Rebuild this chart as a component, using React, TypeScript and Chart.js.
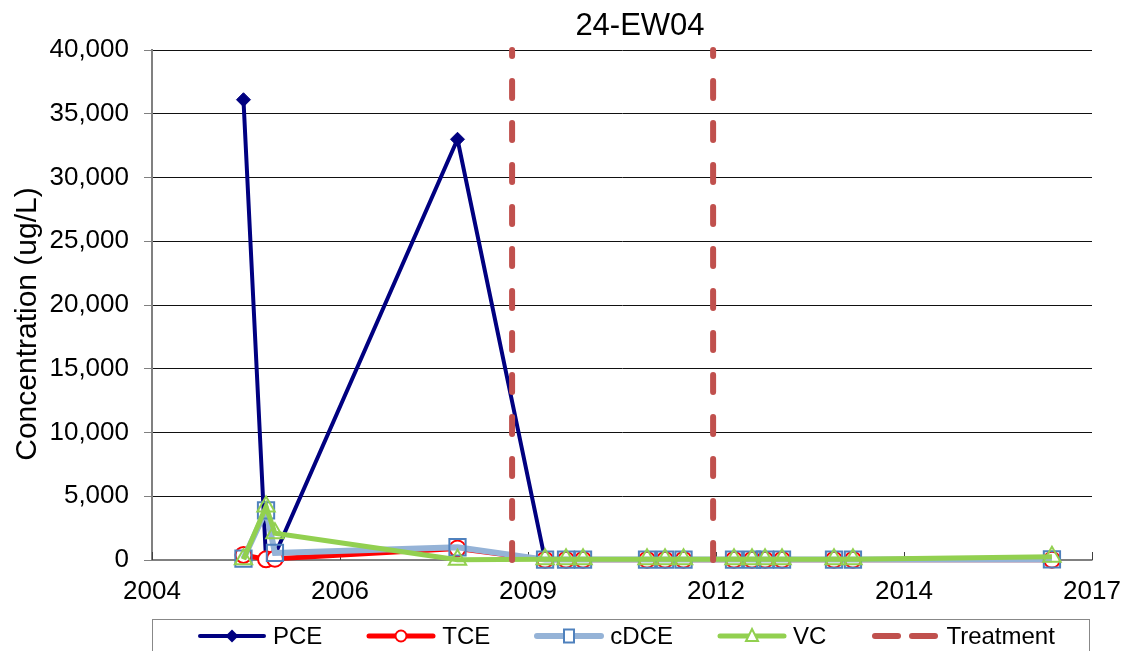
import React, { useEffect, useRef } from 'react';
import { Chart, registerables } from 'chart.js';

Chart.register(...registerables);

const FONT = "'Liberation Sans', Arial, Helvetica, sans-serif";

const chartTitle = '24-EW04';
const yAxisTitle = 'Concentration (ug/L)';

// Sample dates as decimal years
const sampleDates = [
  2005.565, 2005.877, 2006.0, 2008.525, 2009.736, 2010.026, 2010.261, 2011.146, 2011.395,
  2011.651, 2012.349, 2012.598, 2012.778, 2013.013, 2013.732, 2013.994, 2016.746,
];
const pceValues = [36100, 20, 400, 33000, 10, 10, 10, 10, 10, 10, 10, 10, 10, 10, 10, 10, 10];
const tceValues = [400, 50, 100, 900, 20, 20, 20, 20, 20, 20, 20, 20, 20, 20, 20, 20, 20];
const cdceValues = [100, 3900, 550, 1000, 30, 30, 30, 30, 30, 30, 30, 30, 30, 30, 30, 30, 40];
const vcValues = [50, 4200, 2100, 20, 60, 60, 60, 60, 60, 60, 60, 60, 60, 60, 60, 60, 250];

const treatmentDates = [2009.28, 2012.06];
const treatmentRange = [0, 40000];

const xTickPositions = [2004.3, 2006.9, 2009.5, 2012.1, 2014.7, 2017.3];
const xTickLabels = ['2004', '2006', '2009', '2012', '2014', '2017'];
const yMin = 0;
const yMax = 40000;
const yStep = 5000;

const seriesNames = ['PCE', 'TCE', 'cDCE', 'VC', 'Treatment'];

const toPoints = (vals: number[]) => sampleDates.map((x, i) => ({ x, y: vals[i] }));

const treatmentPoints: { x: number; y: number | null }[] = [];
treatmentDates.forEach((d, i) => {
  if (i > 0) treatmentPoints.push({ x: (treatmentDates[i - 1] + d) / 2, y: null });
  treatmentPoints.push({ x: d, y: treatmentRange[0] });
  treatmentPoints.push({ x: d, y: treatmentRange[1] });
});

const xInnerTicks = {
  id: 'xInnerTicks',
  beforeDatasetsDraw(chart: any) {
    const { ctx, scales, chartArea } = chart;
    const x = scales.x;
    ctx.save();
    ctx.strokeStyle = '#404040';
    ctx.lineWidth = 1;
    xTickPositions.forEach((v) => {
      const px = Math.round(x.getPixelForValue(v)) + 0.5;
      ctx.beginPath();
      ctx.moveTo(px, chartArea.bottom);
      ctx.lineTo(px, chartArea.bottom - 8);
      ctx.stroke();
    });
    ctx.restore();
  },
};

function LegendIcon({ name }: { name: string }) {
  const w = 70;
  const h = 24;
  const cy = 12;
  if (name === 'PCE') {
    return (
      <svg width={w} height={h}>
        <line x1={3} y1={cy} x2={67} y2={cy} stroke="#000080" strokeWidth={4} strokeLinecap="round" />
        <polygon points={`35,${cy - 6.5} 41.5,${cy} 35,${cy + 6.5} 28.5,${cy}`} fill="#000080" />
      </svg>
    );
  }
  if (name === 'TCE') {
    return (
      <svg width={w} height={h}>
        <line x1={3} y1={cy} x2={67} y2={cy} stroke="#FF0000" strokeWidth={5} strokeLinecap="round" />
        <circle cx={35} cy={cy} r={5.5} fill="#FFFFFF" stroke="#FF0000" strokeWidth={2} />
      </svg>
    );
  }
  if (name === 'cDCE') {
    return (
      <svg width={w} height={h}>
        <line x1={3} y1={cy} x2={67} y2={cy} stroke="#95B3D7" strokeWidth={6} strokeLinecap="round" />
        <rect x={30} y={cy - 6.5} width={10} height={13} fill="#FFFFFF" stroke="#4F81BD" strokeWidth={2} />
      </svg>
    );
  }
  if (name === 'VC') {
    return (
      <svg width={w} height={h}>
        <line x1={3} y1={cy} x2={67} y2={cy} stroke="#92D050" strokeWidth={5} strokeLinecap="round" />
        <polygon points={`35,${cy - 7} 41,${cy + 5} 29,${cy + 5}`} fill="#FFFFFF" stroke="#92D050" strokeWidth={2} />
      </svg>
    );
  }
  return (
    <svg width={w} height={h}>
      <line x1={5} y1={cy} x2={28} y2={cy} stroke="#C0504D" strokeWidth={6} strokeLinecap="round" />
      <line x1={42} y1={cy} x2={65} y2={cy} stroke="#C0504D" strokeWidth={6} strokeLinecap="round" />
    </svg>
  );
}

export default function App() {
  const canvasRef = useRef<HTMLCanvasElement | null>(null);

  useEffect(() => {
    if (!canvasRef.current) return;
    const common = { tension: 0, clip: false as any, spanGaps: false };
    const chart = new Chart(canvasRef.current, {
      type: 'line',
      data: {
        datasets: [
          {
            ...common,
            label: seriesNames[0],
            data: toPoints(pceValues),
            borderColor: '#000080',
            backgroundColor: '#000080',
            borderWidth: 4,
            pointStyle: 'rectRot',
            pointRadius: 7,
            pointBackgroundColor: '#000080',
            pointBorderColor: '#000080',
            pointBorderWidth: 1,
            order: 4,
          },
          {
            ...common,
            label: seriesNames[1],
            data: toPoints(tceValues),
            borderColor: '#FF0000',
            backgroundColor: '#FF0000',
            borderWidth: 5,
            pointStyle: 'circle',
            pointRadius: 8,
            pointBackgroundColor: '#FFFFFF',
            pointBorderColor: '#FF0000',
            pointBorderWidth: 2,
            order: 3,
          },
          {
            ...common,
            label: seriesNames[2],
            data: toPoints(cdceValues),
            borderColor: '#95B3D7',
            backgroundColor: '#95B3D7',
            borderWidth: 6,
            pointStyle: 'rect',
            pointRadius: 11.5,
            pointBackgroundColor: 'rgba(0,0,0,0)',
            pointBorderColor: '#4F81BD',
            pointBorderWidth: 2,
            order: 2,
          },
          {
            ...common,
            label: seriesNames[3],
            data: toPoints(vcValues),
            borderColor: '#92D050',
            backgroundColor: '#92D050',
            borderWidth: 5,
            pointStyle: 'triangle',
            pointRadius: 10,
            pointBackgroundColor: 'rgba(0,0,0,0)',
            pointBorderColor: '#92D050',
            pointBorderWidth: 2,
            order: 1,
          },
          {
            ...common,
            label: seriesNames[4],
            data: treatmentPoints as any,
            borderColor: '#C0504D',
            backgroundColor: '#C0504D',
            borderWidth: 6,
            borderDash: [17, 25],
            borderCapStyle: 'round',
            pointRadius: 0,
            order: 0,
          },
        ] as any,
      },
      options: {
        animation: false,
        responsive: false,
        maintainAspectRatio: false,
        events: [],
        layout: { padding: { left: 0, top: 50, right: 37, bottom: 0 } },
        plugins: {
          legend: { display: false },
          title: { display: false },
          tooltip: { enabled: false },
        },
        scales: {
          x: {
            type: 'linear',
            min: xTickPositions[0],
            max: xTickPositions[xTickPositions.length - 1],
            afterBuildTicks: (s: any) => {
              s.ticks = xTickPositions.map((v) => ({ value: v }));
            },
            afterFit: (s: any) => {
              s.height = 91;
              s.paddingRight = 0;
            },
            ticks: {
              callback: (_v: any, i: number) => xTickLabels[i],
              font: { size: 26, family: FONT },
              color: '#000',
              maxRotation: 0,
              minRotation: 0,
              autoSkip: false,
              padding: 16,
            },
            grid: { display: true, drawOnChartArea: false, drawTicks: false },
            border: { display: true, color: '#808080', width: 1.5 },
          },
          y: {
            type: 'linear',
            min: yMin,
            max: yMax,
            afterFit: (s: any) => {
              s.width = 152;
            },
            ticks: {
              stepSize: yStep,
              callback: (v: any) => Number(v).toLocaleString('en-US'),
              font: { size: 26, family: FONT },
              color: '#000',
              padding: 15,
            },
            grid: {
              color: (c: any) => (c.tick && c.tick.value === 0 ? '#808080' : '#111111'),
              lineWidth: 1,
              tickLength: 8,
              tickColor: '#808080',
            },
            border: { display: true, color: '#808080', width: 2 },
          },
        } as any,
      },
      plugins: [xInnerTicks],
    });
    return () => chart.destroy();
  }, []);

  return (
    <div
      style={{
        position: 'fixed',
        left: 0,
        top: 0,
        width: 1129,
        height: 651,
        overflow: 'hidden',
        background: '#fff',
        fontFamily: FONT,
      }}
    >
      <canvas
        ref={canvasRef}
        width={1129}
        height={651}
        style={{ position: 'absolute', left: 0, top: 0, width: 1129, height: 651 }}
      />
      <div
        style={{
          position: 'absolute',
          left: 540,
          top: 9,
          width: 200,
          textAlign: 'center',
          fontSize: 31,
          lineHeight: '31px',
          color: '#000',
        }}
      >
        {chartTitle}
      </div>
      <div
        style={{
          position: 'absolute',
          left: 26 - 200,
          top: 324 - 17,
          width: 400,
          height: 34,
          lineHeight: '34px',
          fontSize: 30,
          textAlign: 'center',
          color: '#000',
          transform: 'rotate(-90deg)',
          whiteSpace: 'nowrap',
        }}
      >
        {yAxisTitle}
      </div>
      <div
        style={{
          position: 'absolute',
          left: 152,
          top: 619,
          width: 938,
          height: 40,
          boxSizing: 'border-box',
          border: '1px solid #888',
          display: 'flex',
          alignItems: 'flex-start',
          paddingLeft: 44,
          paddingTop: 4,
        }}
      >
        {seriesNames.map((name) => (
          <div key={name} style={{ display: 'flex', alignItems: 'center', marginRight: 44, height: 24 }}>
            <LegendIcon name={name} />
            <span style={{ marginLeft: 6, fontSize: 24, lineHeight: '24px', color: '#000', whiteSpace: 'nowrap' }}>
              {name}
            </span>
          </div>
        ))}
      </div>
    </div>
  );
}
